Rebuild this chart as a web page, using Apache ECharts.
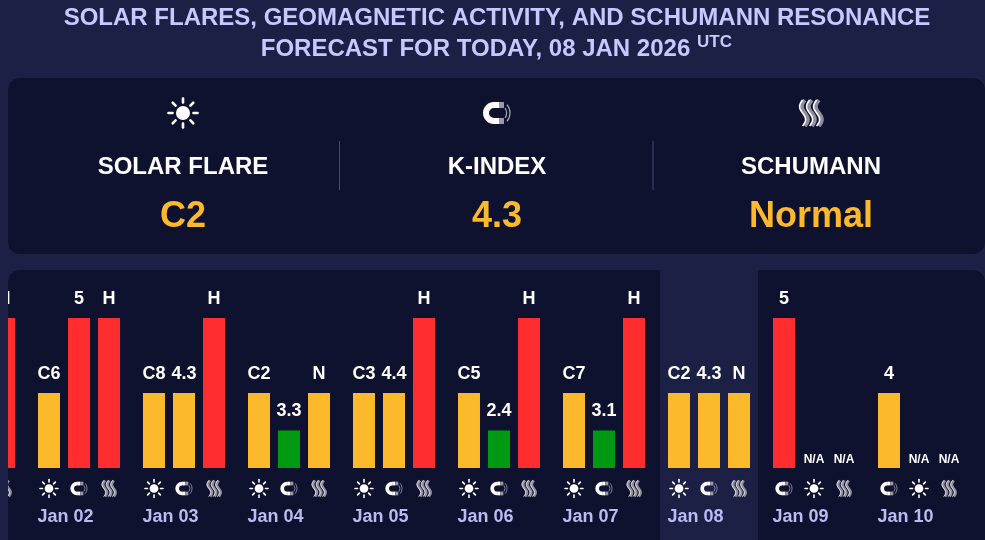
<!DOCTYPE html>
<html>
<head>
<meta charset="utf-8">
<style>
  html, body { margin: 0; padding: 0; background: #1d2045; }
  #forecastChart { width: 985px; height: 540px; }
</style>
<script src="https://cdn.jsdelivr.net/npm/echarts@6/dist/echarts.min.js"></script>
</head>
<body>
<div id="forecastChart"></div>
<script>
const days = ['Jan 01', 'Jan 02', 'Jan 03', 'Jan 04', 'Jan 05', 'Jan 06', 'Jan 07', 'Jan 08', 'Jan 09', 'Jan 10'];

// three bars per day: 0 = no bar, 1 = low, 2 = medium, 4 = high
const firstLevels = [null, 2, 2, 2, 2, 2, 2, 2, 4, 2];
const firstLabels = ['', 'C6', 'C8', 'C2', 'C3', 'C5', 'C7', 'C2', '5', '4'];
const firstIcons = ['sun', 'sun', 'sun', 'sun', 'sun', 'sun', 'sun', 'sun', 'magnet', 'magnet'];

const secondLevels = [null, 4, 2, 1, 2, 1, 1, 2, 0, 0];
const secondLabels = ['', '5', '4.3', '3.3', '4.4', '2.4', '3.1', '4.3', 'N/A', 'N/A'];
const secondIcons = ['magnet', 'magnet', 'magnet', 'magnet', 'magnet', 'magnet', 'magnet', 'magnet', 'sun', 'sun'];

const thirdLevels = [4, 4, 4, 2, 4, 4, 4, 2, 0, 0];
const thirdLabels = ['H', 'H', 'H', 'N', 'H', 'H', 'H', 'N', 'N/A', 'N/A'];
const thirdIcons = ['waves', 'waves', 'waves', 'waves', 'waves', 'waves', 'waves', 'waves', 'waves', 'waves'];

const cardTitles = ['SOLAR FLARE', 'K-INDEX', 'SCHUMANN'];
const cardValues = ['C2', '4.3', 'Normal'];

const PAGE = '#1d2045';
const PANEL = '#0f122f';
const AMBER = '#fdb92c';
const levelColors = { 1: '#009a12', 2: AMBER, 4: '#ff2d2d' };
const fontFamily = '"Liberation Sans", Arial, sans-serif';

// icons are drawn around 0,0 at the size used in the top cards
function iconParts(kind) {
  const parts = [];
  if (kind === 'sun') {
    parts.push({ type: 'circle', shape: { cx: 0, cy: 0, r: 7 }, style: { fill: '#fff' } });
    for (let i = 0; i < 8; i++) {
      const a = i * Math.PI / 4, c = Math.cos(a), s = Math.sin(a);
      parts.push({
        type: 'line',
        shape: { x1: c * 10.5, y1: s * 10.5, x2: c * 14.5, y2: s * 14.5 },
        style: { stroke: '#fff', lineWidth: 2.6, lineCap: 'round' }
      });
    }
  } else if (kind === 'magnet') {
    const white = { stroke: '#fff', lineWidth: 6, fill: null };
    const tip = { stroke: '#9a9aa8', lineWidth: 6 };
    const thin = { stroke: '#a9a9b8', lineWidth: 1.2, fill: null };
    parts.push({ type: 'arc', shape: { cx: -3, cy: 0, r: 8, startAngle: Math.PI / 2, endAngle: Math.PI * 1.5, clockwise: true }, style: white });
    parts.push({ type: 'line', shape: { x1: -3, y1: -8, x2: 2, y2: -8 }, style: { stroke: '#fff', lineWidth: 6 } });
    parts.push({ type: 'line', shape: { x1: -3, y1: 8, x2: 2, y2: 8 }, style: { stroke: '#fff', lineWidth: 6 } });
    parts.push({ type: 'line', shape: { x1: 2, y1: -8, x2: 7, y2: -8 }, style: tip });
    parts.push({ type: 'line', shape: { x1: 2, y1: 8, x2: 7, y2: 8 }, style: tip });
    parts.push({ type: 'arc', shape: { cx: 0, cy: 0, r: 9.5, startAngle: -0.55, endAngle: 0.55, clockwise: true }, style: thin });
    parts.push({ type: 'arc', shape: { cx: 0, cy: 0, r: 13, startAngle: -0.7, endAngle: 0.7, clockwise: true }, style: thin });
  } else {
    [-7, 0, 7].forEach(function (x0) {
      const grey = [], edge = [];
      for (let y = -13; y <= 13; y += 1) {
        const x = x0 - 3 * Math.sin((y + 13) / 26 * Math.PI * 2);
        grey.push([x + 0.8, y]);
        edge.push([x - 1.4, y]);
      }
      parts.push({ type: 'polyline', shape: { points: grey }, style: { stroke: '#8f8f9e', lineWidth: 4, fill: null } });
      parts.push({ type: 'polyline', shape: { points: edge }, style: { stroke: '#fff', lineWidth: 1.6, fill: null } });
    });
  }
  return parts;
}

function barSeries(levels, labels) {
  return {
    type: 'bar',
    barWidth: 22,
    barGap: '36.4%',
    data: levels.map(function (level, i) {
      const isNa = labels[i] === 'N/A';
      return {
        value: level,
        itemStyle: { color: levelColors[level] },
        label: {
          show: true,
          position: 'top',
          formatter: labels[i],
          distance: isNa ? 2 : 10,
          color: '#fff',
          fontFamily: fontFamily,
          fontWeight: 'bold',
          fontSize: isNa ? 12 : 18
        }
      };
    })
  };
}

const iconCells = [];
[firstIcons, secondIcons, thirdIcons].forEach(function (icons, slot) {
  icons.forEach(function (kind, day) {
    iconCells.push({ day: day, slot: slot, kind: kind });
  });
});

const cardCenters = [183, 497, 811];
const cardGraphics = [];
cardCenters.forEach(function (cx, i) {
  cardGraphics.push({ type: 'group', x: cx, y: 113, children: iconParts(['sun', 'magnet', 'waves'][i]), z: 5 });
  cardGraphics.push({
    type: 'text', x: cx, y: 167, z: 5,
    style: { text: cardTitles[i], fill: '#fff', font: 'bold 24px ' + fontFamily, textAlign: 'center', textVerticalAlign: 'middle' }
  });
  cardGraphics.push({
    type: 'text', x: cx, y: 217, z: 5,
    style: { text: cardValues[i], fill: AMBER, font: 'bold 36px ' + fontFamily, textAlign: 'center', textVerticalAlign: 'middle' }
  });
});

const chart = echarts.init(document.getElementById('forecastChart'));

chart.setOption({
  backgroundColor: PAGE,
  animation: false,
  title: [
    {
      text: 'SOLAR FLARES, GEOMAGNETIC ACTIVITY, AND SCHUMANN RESONANCE',
      left: 497, top: 1, textAlign: 'center', padding: [5, 0],
      textStyle: { color: '#c6c9ff', fontFamily: fontFamily, fontWeight: 'bold', fontSize: 24 }
    },
    {
      text: 'FORECAST FOR TODAY, 08 JAN 2026',
      left: 475.5, top: 32, textAlign: 'center', padding: [5, 0],
      textStyle: { color: '#c6c9ff', fontFamily: fontFamily, fontWeight: 'bold', fontSize: 24 }
    },
    {
      text: 'UTC',
      left: 697, top: 29, padding: [5, 0],
      textStyle: { color: '#c6c9ff', fontFamily: fontFamily, fontWeight: 'bold', fontSize: 17 }
    }
  ],
  graphic: [
    { type: 'rect', shape: { x: 8, y: 78, width: 977, height: 176, r: 12 }, style: { fill: PANEL }, z: 0 },
    { type: 'line', shape: { x1: 339.5, y1: 141, x2: 339.5, y2: 190 }, style: { stroke: '#45457f', lineWidth: 1 }, z: 1 },
    { type: 'line', shape: { x1: 653, y1: 141, x2: 653, y2: 190 }, style: { stroke: '#45457f', lineWidth: 1 }, z: 1 },
    { type: 'rect', shape: { x: 8, y: 270, width: 977, height: 270, r: [12, 12, 0, 0] }, style: { fill: PANEL }, z: 0 },
    { type: 'rect', shape: { x: 660, y: 270, width: 98, height: 270 }, style: { fill: PAGE }, z: 1 },
    { type: 'rect', shape: { x: 0, y: 270, width: 8, height: 270 }, style: { fill: PAGE }, z: 1000 }
  ].concat(cardGraphics),
  grid: { left: -78.5, width: 1050, top: 318, bottom: 72, outerBoundsMode: 'none' },
  xAxis: {
    type: 'category',
    data: days,
    z: 5,
    axisLine: { show: false },
    axisTick: { show: false },
    axisLabel: {
      interval: 0,
      margin: 40,
      padding: [0, 27, 0, 0],
      color: '#b9bcf2',
      fontFamily: fontFamily,
      fontWeight: 'bold',
      fontSize: 18
    }
  },
  yAxis: { type: 'value', min: 0, max: 4, show: false },
  series: [
    barSeries(firstLevels, firstLabels),
    barSeries(secondLevels, secondLabels),
    barSeries(thirdLevels, thirdLabels),
    {
      type: 'custom',
      silent: true,
      encode: { x: 0, y: 1 },
      data: iconCells.map(function (cell) { return [cell.day, 0, cell.slot]; }),
      renderItem: function (params, api) {
        const base = api.coord([api.value(0), 0]);
        return {
          type: 'group',
          x: base[0] + (api.value(2) - 1) * 30,
          y: base[1] + 20.5,
          scaleX: 0.62,
          scaleY: 0.62,
          children: iconParts(iconCells[params.dataIndex].kind)
        };
      }
    }
  ]
});
</script>
</body>
</html>
